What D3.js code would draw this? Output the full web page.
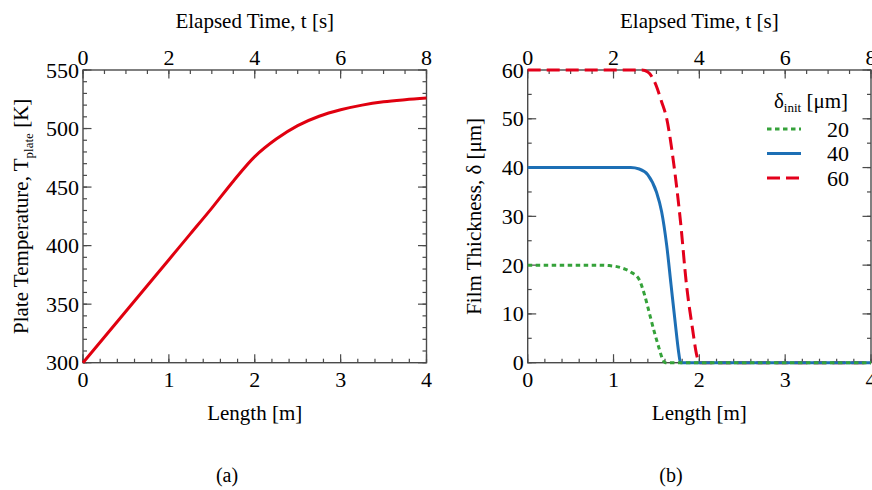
<!DOCTYPE html>
<html>
<head>
<meta charset="utf-8">
<script src="https://cdn.jsdelivr.net/npm/d3@7"></script>
<style>
  body { margin: 0; background: #fff; }
  svg text { font-family: "Liberation Serif", "Times New Roman", "DejaVu Serif", serif; }
</style>
</head>
<body>
<div id="chart"></div>
<script>
// Panel (a): plate temperature along the plate
const lengthA = [0, 0.25, 0.5, 0.75, 1, 1.25, 1.5, 1.75, 2, 2.25, 2.5, 2.75, 3, 3.25, 3.5, 3.75, 4]
const tempA = [300, 322, 344, 366, 388, 410, 432, 455, 476, 491, 502.5, 510.5, 516, 520, 522.8, 524.6, 526]

// Panel (b): film thickness for three initial thicknesses
const len20 = [0, 0.8, 0.95, 1.1, 1.2, 1.3, 1.36, 1.42, 1.48, 1.53, 1.57, 1.6, 4]
const film20 = [20, 20, 19.9, 19.4, 18.6, 17, 14, 10, 6, 3, 0.8, 0, 0]
const len40 = [0, 1.2, 1.3, 1.4, 1.5, 1.56, 1.62, 1.67, 1.72, 1.76, 1.78, 4]
const film40 = [40, 40, 39.7, 38.5, 35, 31, 24, 16, 8, 2, 0, 0]
const len60 = [0, 1.33, 1.4, 1.48, 1.56, 1.62, 1.7, 1.78, 1.85, 1.92, 1.97, 2.0, 4]
const film60 = [60, 60, 59.6, 57.5, 53.5, 50, 41, 29, 16, 7, 1.5, 0, 0]

const legendLabels = ['20', '40', '60']
const lengthTicks = [0, 1, 2, 3, 4]
const timeTicks = [0, 2, 4, 6, 8]
const tempTicks = [300, 350, 400, 450, 500, 550]
const filmTicks = [0, 10, 20, 30, 40, 50, 60]

const width = 872
const height = 490
const axisColor = '#4a4a4a'
const tickSize = 22
const titleSize = 21

const svg = d3.select('#chart').append('svg')
  .attr('width', width)
  .attr('height', height)

svg.append('rect').attr('width', width).attr('height', height).attr('fill', '#fff')

function drawFrame(g, x, xt, y, opts) {
  const [x0, x1] = x.range()
  const [y0, y1] = y.range()

  // ticks, all pointing inwards
  const ticks = (sel, scale, step, dom, len, orient) => {
    d3.range(dom[0], dom[1] + 1e-9, step).forEach(v => {
      const p = scale(v)
      if (orient === 'bottom') sel.append('line').attr('x1', p).attr('x2', p).attr('y1', y0).attr('y2', y0 - len)
      if (orient === 'top') sel.append('line').attr('x1', p).attr('x2', p).attr('y1', y1).attr('y2', y1 + len)
      if (orient === 'left') sel.append('line').attr('y1', p).attr('y2', p).attr('x1', x0).attr('x2', x0 + len)
      if (orient === 'right') sel.append('line').attr('y1', p).attr('y2', p).attr('x1', x1).attr('x2', x1 - len)
    })
  }

  const tg = g.append('g').attr('stroke', axisColor).attr('stroke-width', 1.2)
  ticks(tg, x, 0.2, x.domain(), 4, 'bottom')
  ticks(tg, x, 1, x.domain(), 8.5, 'bottom')
  ticks(tg, xt, 0.5, xt.domain(), 4, 'top')
  ticks(tg, xt, 2, xt.domain(), 8.5, 'top')
  ticks(tg, y, opts.yMinor, y.domain(), 4, 'left')
  ticks(tg, y, opts.yMajor, y.domain(), 8.5, 'left')
  ticks(tg, y, opts.yMinor, y.domain(), 4, 'right')
  ticks(tg, y, opts.yMajor, y.domain(), 8.5, 'right')

  g.append('rect')
    .attr('x', x0).attr('y', y1)
    .attr('width', x1 - x0).attr('height', y0 - y1)
    .attr('fill', 'none')
    .attr('stroke', axisColor)
    .attr('stroke-width', 1.4)

  // tick labels
  g.append('g').selectAll('text').data(lengthTicks).join('text')
    .attr('x', d => x(d)).attr('y', y0 + 24)
    .attr('text-anchor', 'middle')
    .attr('font-size', tickSize)
    .text(d => d)
  g.append('g').selectAll('text').data(timeTicks).join('text')
    .attr('x', d => xt(d)).attr('y', y1 - 5)
    .attr('text-anchor', 'middle')
    .attr('font-size', tickSize)
    .text(d => d)
  g.append('g').selectAll('text').data(opts.yTicks).join('text')
    .attr('x', x0 - 4).attr('y', d => y(d) + 7.5)
    .attr('text-anchor', 'end')
    .attr('font-size', tickSize)
    .text(d => d)

  // axis titles
  g.append('text')
    .attr('x', (x0 + x1) / 2).attr('y', y0 + 57)
    .attr('text-anchor', 'middle')
    .attr('font-size', titleSize)
    .text('Length [m]')
  g.append('text')
    .attr('x', (x0 + x1) / 2).attr('y', 28)
    .attr('text-anchor', 'middle')
    .attr('font-size', titleSize)
    .text('Elapsed Time, t [s]')
}

// ---------- Panel (a) ----------
const xA = d3.scaleLinear().domain([0, 4]).range([83, 426.5])
const xtA = d3.scaleLinear().domain([0, 8]).range([83, 426.5])
const yA = d3.scaleLinear().domain([300, 550]).range([362.7, 70])

const gA = svg.append('g')
drawFrame(gA, xA, xtA, yA, { yMinor: 10, yMajor: 50, yTicks: tempTicks })

const lineA = d3.line().x(d => xA(d[0])).y(d => yA(d[1])).curve(d3.curveCatmullRom)
gA.append('path')
  .datum(d3.zip(lengthA, tempA))
  .attr('d', lineA)
  .attr('fill', 'none')
  .attr('stroke', '#e0000f')
  .attr('stroke-width', 3)

const ylabA = gA.append('text')
  .attr('transform', `translate(28,${(70 + 362.7) / 2}) rotate(-90)`)
  .attr('text-anchor', 'middle')
  .attr('font-size', titleSize)
ylabA.append('tspan').text('Plate Temperature, T')
ylabA.append('tspan').attr('font-size', 13).attr('dy', 5).text('plate')
ylabA.append('tspan').attr('dy', -5).text(' [K]')

// ---------- Panel (b) ----------
const xB = d3.scaleLinear().domain([0, 4]).range([527.7, 871])
const xtB = d3.scaleLinear().domain([0, 8]).range([527.7, 871])
const yB = d3.scaleLinear().domain([0, 60]).range([362.7, 70])

const gB = svg.append('g')
drawFrame(gB, xB, xtB, yB, { yMinor: 5, yMajor: 10, yTicks: filmTicks })

const series = [
  { xs: len60, ys: film60, color: '#e3001b', dash: '13,6' },
  { xs: len40, ys: film40, color: '#1d6fb5', dash: null },
  { xs: len20, ys: film20, color: '#35a23a', dash: '4.5,3.5' }
]
const lineB = d3.line().x(d => xB(d[0])).y(d => yB(d[1])).curve(d3.curveMonotoneX)
gB.append('g').selectAll('path').data(series).join('path')
  .attr('d', s => lineB(d3.zip(s.xs, s.ys)))
  .attr('fill', 'none')
  .attr('stroke', s => s.color)
  .attr('stroke-width', 3)
  .attr('stroke-dasharray', s => s.dash)

gB.append('text')
  .attr('transform', `translate(481,${(70 + 362.7) / 2}) rotate(-90)`)
  .attr('text-anchor', 'middle')
  .attr('font-size', titleSize)
  .text('Film Thickness, δ [μm]')

// legend
const legend = gB.append('g')
const legTitle = legend.append('text').attr('x', 848).attr('y', 108)
  .attr('text-anchor', 'end').attr('font-size', titleSize)
legTitle.append('tspan').text('δ')
legTitle.append('tspan').attr('font-size', 13).attr('dy', 4).text('init')
legTitle.append('tspan').attr('dy', -4).text(' [μm]')

const legItems = [series[2], series[1], series[0]]
legItems.forEach((s, i) => {
  const yy = 129 + i * 24.5
  legend.append('line')
    .attr('x1', 767).attr('x2', 801).attr('y1', yy).attr('y2', yy)
    .attr('stroke', s.color).attr('stroke-width', 3)
    .attr('stroke-dasharray', s.dash)
  legend.append('text')
    .attr('x', 849).attr('y', yy + 7.5)
    .attr('text-anchor', 'end')
    .attr('font-size', tickSize)
    .text(legendLabels[i])
})

// captions
svg.append('text').attr('x', 227).attr('y', 482).attr('text-anchor', 'middle')
  .attr('font-size', 20).text('(a)')
svg.append('text').attr('x', 671).attr('y', 482).attr('text-anchor', 'middle')
  .attr('font-size', 20).text('(b)')
</script>
</body>
</html>
